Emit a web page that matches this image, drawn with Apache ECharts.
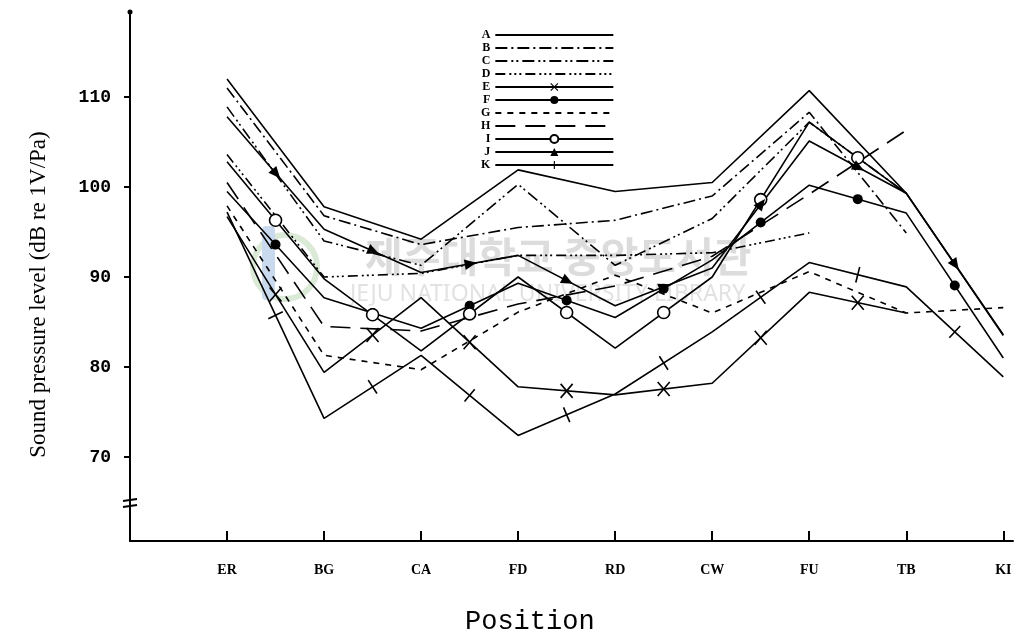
<!DOCTYPE html>
<html>
<head>
<meta charset="utf-8">
<script src="https://cdn.jsdelivr.net/npm/echarts@6/dist/echarts.min.js"></script>
<style>
  html, body { margin: 0; padding: 0; background: #fff; }
  #chart { width: 1021px; height: 633px; }
</style>
</head>
<body>
<div id="chart"></div>
<script>
// positions along the x axis
const positions = ['ER', 'BG', 'CA', 'FD', 'RD', 'CW', 'FU', 'TB', 'KI']
const yTicks = [70, 80, 90, 100, 110]
const seriesNames = ['A', 'B', 'C', 'D', 'E', 'F', 'G', 'H', 'I', 'J', 'K']

// sound pressure level (dB re 1V/Pa)
const levelA = [112.0, 97.8, 94.2, 101.9, 99.5, 100.5, 110.7, 99.3, 83.5]
const levelB = [111.0, 96.8, 93.6, 95.5, 96.3, 99.0, 108.3, 94.9, null]
const levelC = [108.9, 94.0, 91.3, 100.3, 91.3, 96.5, 107.2, 99.3, null]
const levelD = [103.6, 90.0, 90.4, 92.4, 92.4, 92.7, 94.9, null, null]
const levelE = [96.7, 79.4, 87.7, 77.8, 76.9, 78.2, 88.3, 86.0, null]
const levelF = [99.5, 87.7, 84.3, 89.3, 85.5, 91.9, 100.2, 97.1, 81.0]
const levelG = [97.9, 81.3, 79.7, 86.1, 90.2, 86.0, 90.6, 86.0, 86.6]
const levelH = [100.5, 84.5, 84.0, 87.0, 89.0, 92.3, 99.2, 106.3, null]
const levelI = [102.8, 89.8, 81.8, 90.0, 82.1, 90.0, 107.2, 99.3, null]
const levelJ = [107.8, 95.3, 90.5, 92.4, 86.8, 91.0, 105.1, 99.3, 83.6]
const levelK = [97.2, 74.3, 81.3, 72.4, 77.0, 83.9, 91.6, 88.9, 78.9]

const levels = [levelA, levelB, levelC, levelD, levelE, levelF, levelG, levelH, levelI, levelJ, levelK]

// line pattern and marker of each series
const dashes = {
  A: 'solid',
  B: [12, 4, 2, 4],
  C: [12, 4, 2, 3, 2, 4],
  D: [10, 4, 2, 3, 2, 3, 2, 4],
  E: 'solid',
  F: 'solid',
  G: [6, 6],
  H: [20, 10],
  I: 'solid',
  J: 'solid',
  K: 'solid'
}
const markers = { E: 'cross', F: 'dot', I: 'ring', J: 'tri', K: 'bar' }
const legendSymbols = {
  cross: 'path://M0,1L1,0L10,9L9,10ZM9,0L10,1L1,10L0,9Z',
  dot: 'circle',
  ring: 'emptyCircle',
  tri: 'triangle',
  bar: 'path://M4.3,0L5.7,0L5.7,10L4.3,10ZM0,0L0.01,0L0,0.01ZM10,10L9.99,10L10,9.99Z'
}
const markerKinds = ['cross', 'dot', 'ring', 'tri', 'bar']

const chart = echarts.init(document.getElementById('chart'))

// line series
const lineSeries = seriesNames.map((name, k) => {
  const data = []
  levels[k].forEach((v, i) => {
    if (v != null) data.push([i + 1, v])
  })
  const mk = markers[name]
  return {
    name: name,
    type: 'line',
    data: data,
    symbol: mk ? legendSymbols[mk] : 'circle',
    symbolSize: 8,
    showSymbol: false,
    color: '#000',
    lineStyle: { color: '#000', width: 1.6, type: dashes[name] },
    z: 2
  }
})

// markers sit in the middle of every segment, as in the figure
const markerData = []
seriesNames.forEach((name, k) => {
  const mk = markers[name]
  if (!mk) return
  const vals = levels[k]
  for (let i = 0; i < vals.length - 1; i++) {
    if (vals[i] == null || vals[i + 1] == null) continue
    markerData.push([i + 1, vals[i], i + 2, vals[i + 1], markerKinds.indexOf(mk)])
  }
})

function renderMarker(params, api) {
  const a = api.coord([api.value(0), api.value(1)])
  const b = api.coord([api.value(2), api.value(3)])
  const kind = markerKinds[api.value(4)]
  const mx = (a[0] + b[0]) / 2
  const my = (a[1] + b[1]) / 2
  const ang = Math.atan2(b[1] - a[1], b[0] - a[0])
  const c = Math.cos(ang)
  const s = Math.sin(ang)
  const ink = { stroke: '#000', lineWidth: 1.6 }
  if (kind === 'cross') {
    return {
      type: 'group',
      children: [
        { type: 'line', shape: { x1: mx - 6, y1: my - 7, x2: mx + 6, y2: my + 7 }, style: ink },
        { type: 'line', shape: { x1: mx + 6, y1: my - 7, x2: mx - 6, y2: my + 7 }, style: ink }
      ]
    }
  }
  if (kind === 'dot') {
    return { type: 'circle', shape: { cx: mx, cy: my, r: 5 }, style: { fill: '#000' } }
  }
  if (kind === 'ring') {
    return { type: 'circle', shape: { cx: mx, cy: my, r: 6 }, style: { fill: '#fff', stroke: '#000', lineWidth: 1.6 } }
  }
  if (kind === 'tri') {
    const r = 7
    return {
      type: 'polygon',
      shape: {
        points: [
          [mx + r * c, my + r * s],
          [mx - 0.7 * r * c - 0.75 * r * s, my - 0.7 * r * s + 0.75 * r * c],
          [mx - 0.7 * r * c + 0.75 * r * s, my - 0.7 * r * s - 0.75 * r * c]
        ]
      },
      style: { fill: '#000' }
    }
  }
  // short bar across the line
  return { type: 'line', shape: { x1: mx + 8 * s, y1: my - 8 * c, x2: mx - 8 * s, y2: my + 8 * c }, style: ink }
}

// faint library watermark of the scanned page
const watermark = [
  { type: 'rect', left: 262, top: 226, z: -10, shape: { width: 13, height: 74, r: 4 }, style: { fill: '#c9d9ee' } },
  { type: 'circle', left: 250, top: 232, z: -11, shape: { r: 32 }, style: { fill: 'none', stroke: '#dbead7', lineWidth: 6 } },
  {
    type: 'text',
    left: 365,
    top: 236,
    z: -10,
    style: { text: '제주대학교 중앙도서관', fontFamily: 'Noto Sans CJK KR', fontSize: 41, fontWeight: 'bold', fill: '#dcdcdc' }
  },
  {
    type: 'text',
    left: 350,
    top: 283,
    z: -10,
    style: { text: 'JEJU NATIONAL UNIVERSITY LIBRARY', fontFamily: 'Noto Sans', fontSize: 23, fill: '#e2e2e2' }
  }
]

const option = {
  animation: false,
  backgroundColor: '#fff',
  title: {
    text: 'Position',
    left: 460,
    top: 603,
    textStyle: { fontFamily: 'Liberation Mono', fontSize: 27, fontWeight: 'normal', color: '#000' }
  },
  grid: { left: 130, right: 8, top: 12, bottom: 92, containLabel: false },
  legend: {
    data: seriesNames.map(n => (markers[n] ? { name: n } : { name: n, itemStyle: { opacity: 0 } })),
    orient: 'vertical',
    left: 476,
    top: 24,
    align: 'right',
    itemWidth: 118,
    itemHeight: 10,
    itemGap: 1,
    selectedMode: false,
    textStyle: { fontFamily: 'Liberation Serif', fontSize: 12, fontWeight: 'bold', color: '#000', lineHeight: 10 }
  },
  xAxis: {
    type: 'value',
    min: 0,
    max: 9.1,
    splitLine: { show: false },
    axisLine: { lineStyle: { color: '#000', width: 2 } },
    axisTick: { inside: true, length: 10, lineStyle: { color: '#000', width: 2 }, customValues: positions.map((p, i) => i + 1) },
    axisLabel: {
      customValues: positions.map((p, i) => i + 1),
      formatter: v => positions[Math.round(v) - 1] || '',
      margin: 22,
      fontFamily: 'Liberation Serif',
      fontWeight: 'bold',
      fontSize: 14,
      color: '#000'
    }
  },
  yAxis: {
    type: 'value',
    min: 60.67,
    max: 119.44,
    name: 'Sound pressure level (dB re 1V/Pa)',
    nameLocation: 'middle',
    nameRotate: 90,
    nameGap: 80,
    nameTextStyle: { fontFamily: 'Liberation Serif', fontSize: 23, color: '#000', padding: [0, 36, 0, 0] },
    splitLine: { show: false },
    axisLine: { lineStyle: { color: '#000', width: 2 }, symbol: ['none', 'circle'], symbolSize: [5, 5] },
    axisTick: { length: 6, lineStyle: { color: '#000', width: 2 }, customValues: yTicks },
    axisLabel: {
      customValues: yTicks,
      margin: 19,
      fontFamily: 'Liberation Mono',
      fontWeight: 'bold',
      fontSize: 18,
      color: '#000'
    }
  },
  graphic: watermark,
  series: lineSeries.concat([
    {
      type: 'custom',
      renderItem: renderMarker,
      data: markerData,
      encode: { x: [0, 2], y: [1, 3] },
      clip: false,
      silent: true,
      z: 3
    }
  ])
}

chart.setOption(option)

// axis break sign on the y axis
const br = chart.convertToPixel({ gridIndex: 0 }, [0, 64.9])
chart.setOption({
  graphic: watermark.concat([
    { type: 'line', shape: { x1: br[0] - 7, y1: br[1] - 2, x2: br[0] + 7, y2: br[1] - 4 }, style: { stroke: '#000', lineWidth: 2 } },
    { type: 'line', shape: { x1: br[0] - 7, y1: br[1] + 4, x2: br[0] + 7, y2: br[1] + 2 }, style: { stroke: '#000', lineWidth: 2 } }
  ])
})
</script>
</body>
</html>
